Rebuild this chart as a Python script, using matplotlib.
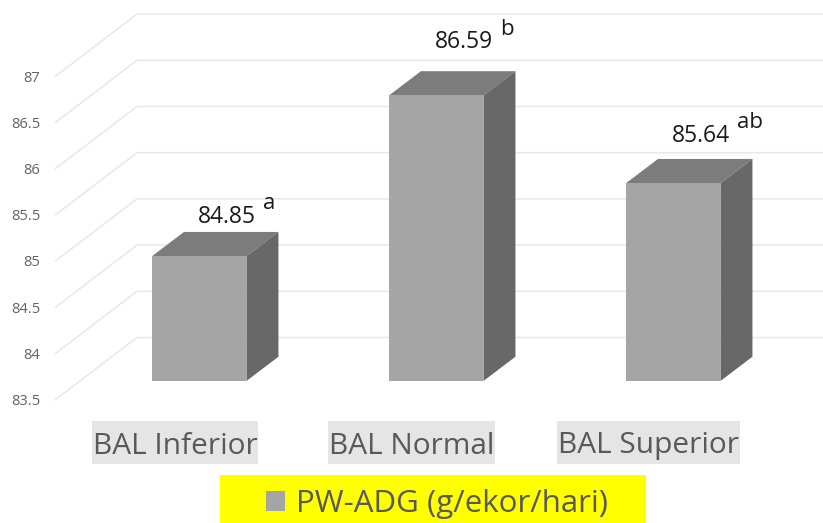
import matplotlib
matplotlib.use("Agg")
import matplotlib.pyplot as plt
from matplotlib.patches import Polygon, Rectangle

categories = ["BAL Inferior", "BAL Normal", "BAL Superior"]
values = [84.85, 86.59, 85.64]
letters = ["a", "b", "ab"]
y_ticks = [83.5, 84, 84.5, 85, 85.5, 86, 86.5, 87]
y_tick_labels = ["83.5", "84", "84.5", "85", "85.5", "86", "86.5", "87"]
series_name = "PW-ADG (g/ekor/hari)"

W, H = 823, 523
PX_X = 237.0    # pixels per category
PX_Y = 92.4     # pixels per value unit
X0, Y0 = 199.2, 400.0   # pixel position of category 0 and of value 83.5

plt.rcParams["font.family"] = ["Open Sans", "DejaVu Sans"]
fig = plt.figure(figsize=(W / 100, H / 100), dpi=100)
ax = fig.add_axes([0, 0, 1, 1])
ax.set_xlim(-X0 / PX_X, (W - X0) / PX_X)
ax.set_ylim(83.5 - (H - Y0) / PX_Y, 83.5 + Y0 / PX_Y)
ax.axis("off")


def dx(px):
    return px / PX_X


def dy(px):
    return px / PX_Y


def px_x(px):
    return (px - X0) / PX_X


def px_y(px):
    return 83.5 + (Y0 - px) / PX_Y


# oblique walls: gridlines run in from the front edge, then along the back
GRID = "#e8e8e8"
for t, lab in zip(y_ticks, y_tick_labels):
    xs = [px_x(55), px_x(137), px_x(W)]
    ys = [t, t + dy(62.5), t + dy(62.5)]
    ax.plot(xs, ys, color=GRID, lw=1.1, zorder=1, solid_capstyle="butt")
    ax.text(px_x(40.5), t - dy(1.5), lab, ha="right", va="center", fontsize=10.5,
            color="#636363", zorder=5)

# 3-D bars: front face plus top and side faces pushed back by the bar depth
FRONT_LIFT = 19.0
BAR_W = 94.5 / PX_X
DEPTH_X, DEPTH_Y = dx(32), dy(24.3)
LABEL_LIFT = [15, 29, 23]   # height of each value label above its bar, pixels
base = 83.5 + dy(FRONT_LIFT)
for i, v in enumerate(values):
    left, right = i - BAR_W / 2, i + BAR_W / 2
    top = base + (v - 83.5)
    ax.bar(i, v - 83.5, BAR_W, bottom=base, color="#a5a5a5", zorder=4)
    ax.add_patch(Polygon([(left, top), (right, top),
                          (right + DEPTH_X, top + DEPTH_Y),
                          (left + DEPTH_X, top + DEPTH_Y)],
                         closed=True, fc="#7c7c7c", ec="none", zorder=3))
    ax.add_patch(Polygon([(right, base), (right, top),
                          (right + DEPTH_X, top + DEPTH_Y),
                          (right + DEPTH_X, base + DEPTH_Y)],
                         closed=True, fc="#686868", ec="none", zorder=3))
    # value label with its significance letter raised beside it
    lx = i + dx(56.5)
    ly = top + DEPTH_Y + dy(LABEL_LIFT[i])
    ax.text(lx, ly, f"{v:.2f}", ha="right", va="center", fontsize=16.5,
            color="#1a1a1a", zorder=6)
    ax.text(lx + dx(7), ly + dy(13), letters[i], ha="left", va="center",
            fontsize=16, color="#1a1a1a", zorder=6)

# category labels on light grey boxes
BOX_SPANS = [(92, 258), (328, 495), (557, 740)]
for c, (x_a, x_b) in zip(categories, BOX_SPANS):
    ax.add_patch(Rectangle((px_x(x_a), px_y(464)), (x_b - x_a) / PX_X, dy(43),
                           fc="#e5e5e5", ec="none", zorder=5))
    ax.text(px_x((x_a + x_b) / 2), px_y(446), c, ha="center", va="center",
            fontsize=21.5, color="#595959", zorder=6)

# legend strip
ax.add_patch(Rectangle((px_x(220), px_y(H)), 426 / PX_X, dy(48),
                       fc="#ffff00", ec="none", zorder=5))
ax.add_patch(Rectangle((px_x(266), px_y(511)), 19 / PX_X, dy(20),
                       fc="#a5a5a5", ec="none", zorder=6))
ax.text(px_x(296), px_y(503.5), series_name, ha="left", va="center",
        fontsize=22.5, color="#595959", zorder=6)

fig.savefig("out.png", dpi=100)
